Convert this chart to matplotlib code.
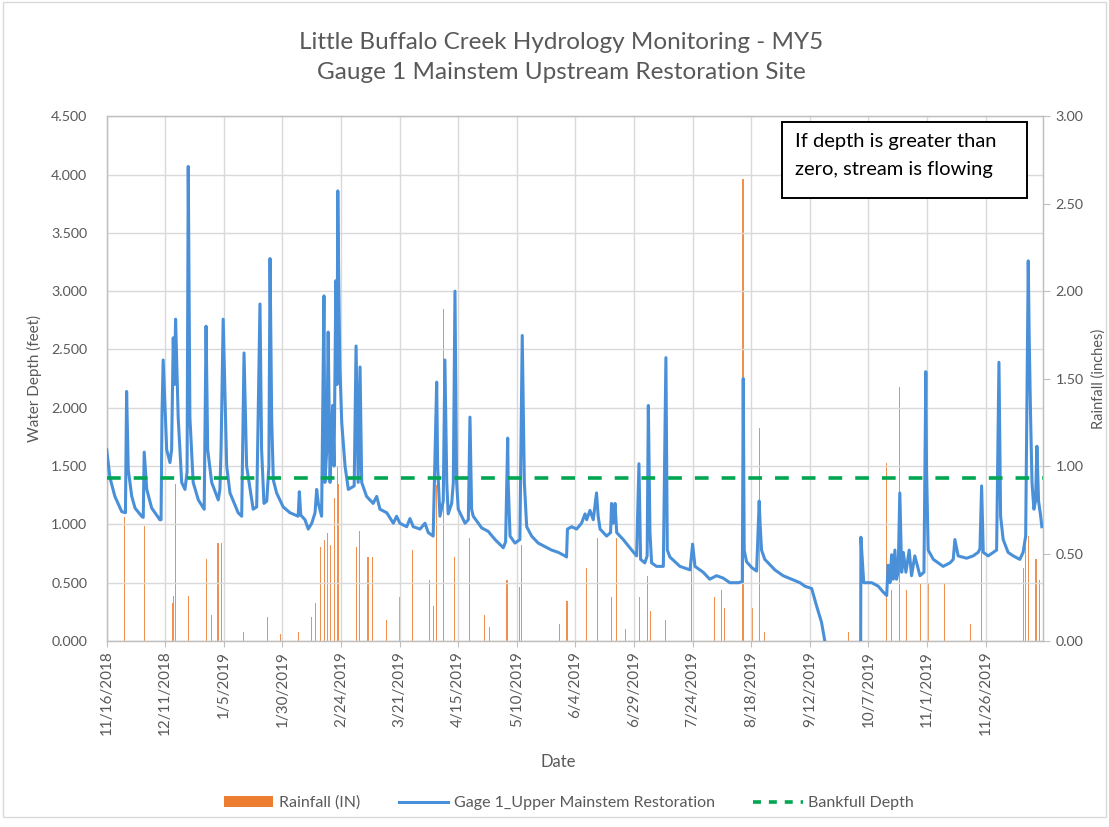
import numpy as np
import pandas as pd
import matplotlib
matplotlib.use("Agg")
import matplotlib.pyplot as plt
from matplotlib.patches import Patch, Rectangle
from matplotlib.lines import Line2D

# ---- data -------------------------------------------------------------
start_date = "2018-11-16"

# water depth record: days after start, depth in feet (nan = no record)
depth_day = [
    0.0, 1.4, 3.5, 6.4, 8.0, 8.5, 9.2, 10.7, 12.1, 14.9, 15.6, 16.0, 17.1, 19.2, 22.7,
    23.2, 23.6, 24.1, 24.9, 25.6, 27.0, 27.7, 28.4, 28.9, 29.4, 30.5, 32.0, 33.4, 34.3,
    34.8, 35.5, 36.9, 39.1, 41.6, 42.4, 43.1, 44.8, 47.6, 48.3, 48.8, 49.7, 51.2, 52.6,
    56.1, 57.6, 58.6, 59.7, 62.5, 64.0, 65.4, 66.1, 67.1, 68.3, 69.2, 69.7, 70.4, 71.1,
    72.5, 75.3, 78.2, 81.7, 82.2, 82.8, 84.6, 86.0, 87.5, 88.9, 89.6, 90.3, 91.7, 92.7,
    93.1, 93.9, 94.5, 95.3, 95.7, 96.4, 97.0, 97.8, 98.3, 98.6, 99.0, 99.5, 100.3, 101.7,
    103.1, 105.6, 106.4, 107.3, 108.1, 108.8, 110.9, 113.7, 115.2, 116.6, 119.5, 122.3,
    123.7, 125.1, 128.0, 129.4, 130.8, 133.7, 135.8, 137.2, 139.3, 140.8, 141.2, 142.2,
    143.6, 144.3, 145.1, 145.7, 147.2, 147.9, 148.6, 149.3, 150.0, 152.9, 154.3, 155.0,
    155.7, 156.4, 160.0, 162.8, 165.7, 169.2, 170.2, 171.1, 171.3, 172.1, 174.2, 176.3,
    177.3, 178.2, 179.2, 181.3, 184.1, 187.0, 189.8, 192.7, 195.5, 196.2, 196.6, 198.4,
    200.5, 202.6, 204.1, 204.8, 206.2, 207.6, 209.0, 209.7, 210.5, 213.3, 215.0, 215.4,
    216.1, 216.9, 217.6, 220.4, 224.0, 226.1, 227.1, 227.8, 229.6, 230.6, 231.1, 231.8,
    232.5, 234.6, 237.5, 238.6, 239.2, 240.3, 244.6, 248.9, 250.0, 251.0, 254.5, 257.3,
    260.2, 263.0, 265.9, 269.5, 271.2, 271.6, 272.0, 273.0, 275.2, 277.3, 278.4, 278.8,
    279.4, 280.8, 285.1, 288.6, 292.2, 295.8, 297.9, 300.8, 302.9, 305.0, 306.4, 314.0,
    321.7, 321.8, 323.0, 326.4, 329.2, 331.3, 332.8, 333.4, 334.2, 334.9, 335.6, 336.3,
    337.0, 337.7, 338.4, 339.2, 339.9, 341.0, 342.4, 343.4, 344.8, 347.0, 348.7, 349.5,
    349.8, 350.5, 352.7, 356.9, 359.8, 361.2, 361.9, 363.3, 366.9, 369.7, 371.8, 372.6,
    373.3, 374.0, 376.1, 378.3, 379.7, 380.7, 381.4, 382.5, 384.6, 386.8, 389.6, 391.0,
    392.1, 393.2, 393.6, 394.2, 394.8, 395.6, 396.3, 396.9, 397.6, 398.5, 399.0,
]
depth_ft = [
    1.64, 1.40, 1.24, 1.11, 1.10, 2.14, 1.47, 1.24, 1.14, 1.07, 1.06, 1.62, 1.30, 1.14, 1.04,
    1.04, 1.95, 2.41, 2.00, 1.64, 1.53, 1.64, 2.60, 2.20, 2.76, 1.92, 1.36, 1.30, 1.45,
    4.07, 1.92, 1.36, 1.21, 1.13, 2.70, 1.64, 1.36, 1.21, 1.30, 1.64, 2.76, 1.50, 1.27,
    1.10, 1.07, 2.47, 1.50, 1.13, 1.15, 2.89, 1.64, 1.18, 1.20, 1.50, 3.28, 1.90, 1.38,
    1.27, 1.15, 1.10, 1.07, 1.28, 1.08, 1.04, 0.96, 1.01, 1.10, 1.30, 1.18, 1.07, 2.96,
    1.36, 1.64, 2.65, 1.36, 1.64, 2.02, 1.50, 3.09, 2.20, 3.86, 3.09, 2.35, 1.87, 1.50,
    1.30, 1.33, 2.53, 1.36, 2.35, 1.36, 1.24, 1.18, 1.24, 1.13, 1.10, 1.01,
    1.07, 1.01, 0.98, 1.05, 0.98, 0.96, 1.01, 0.93, 0.90, 2.22, 1.50, 1.07,
    1.20, 2.41, 1.36, 1.09, 1.18, 1.36, 3.00, 1.36, 1.13, 1.01, 1.04, 1.92,
    1.13, 1.07, 0.97, 0.94, 0.87, 0.80, 0.85, 1.74, 1.36, 0.90, 0.84, 0.87,
    2.62, 1.36, 0.98, 0.90, 0.84, 0.81, 0.78, 0.76, 0.73, 0.72, 0.96, 0.98,
    0.96, 1.01, 1.09, 1.04, 1.12, 1.04, 1.27, 1.07, 0.96, 0.90, 0.93, 1.18,
    1.01, 1.18, 0.93, 0.87, 0.78, 0.73, 1.52, 0.70, 0.67, 0.73, 2.02, 0.93,
    0.67, 0.64, 0.64, 2.43, 0.78, 0.72, 0.64, 0.61, 0.83, 0.64, 0.59, 0.53,
    0.56, 0.54, 0.50, 0.50, 0.51, 2.25, 0.78, 0.68, 0.63, 0.60, 1.20, 1.00,
    0.78, 0.70, 0.61, 0.56, 0.53, 0.50, 0.47, 0.45, 0.30, 0.16, 0.00, np.nan,
    0.00, 0.89, 0.50, 0.50, 0.47, 0.42, 0.39, 0.65, 0.50, 0.74, 0.53, 0.78,
    0.53, 0.59, 1.27, 0.59, 0.76, 0.59, 0.78, 0.56, 0.73, 0.56, 0.59, 2.31,
    1.47, 0.78, 0.70, 0.64, 0.67, 0.70, 0.87, 0.73, 0.71, 0.73, 0.76, 0.79,
    1.33, 0.76, 0.73, 0.76, 0.78, 2.39, 1.07, 0.87, 0.76, 0.73, 0.70, 0.76,
    0.90, 3.26, 2.60, 1.92, 1.36, 1.13, 1.20, 1.67, 1.20, 1.07, 0.98,
]

# daily rainfall: days after start, inches
rain_day = [
    7.8, 16.0, 28.0, 28.6, 29.4, 34.8, 42.4, 44.8, 47.5, 49.1, 58.5, 68.8, 74.0, 82.0,
    87.2, 88.9, 91.4, 92.9, 94.2, 95.3, 97.2, 98.3, 98.9, 100.2, 106.4, 107.9, 111.5,
    113.6, 119.5, 125.1, 130.3, 137.9, 139.5, 140.8, 143.9, 148.6, 155.0, 161.4, 163.5,
    170.8, 176.3, 177.0, 193.4, 196.4, 204.6, 209.6, 215.3, 217.4, 221.5, 227.4, 230.9,
    232.2, 238.6, 249.4, 259.4, 262.2, 263.6, 271.5, 275.7, 278.6, 280.5, 316.7, 332.6,
    334.7, 338.3, 341.1, 347.2, 350.5, 357.6, 368.7, 373.1, 391.0, 392.1, 393.2, 396.5,
    398.2,
]
rain_in = [
    0.71, 0.66, 0.22, 0.26, 0.90, 0.26, 0.47, 0.15, 0.56, 0.56, 0.05, 0.14, 0.04, 0.05,
    0.14, 0.22, 0.54, 0.58, 0.62, 0.55, 0.82, 1.00, 0.90, 0.65, 0.54, 0.63, 0.48,
    0.48, 0.12, 0.25, 0.52, 0.35, 0.20, 0.89, 1.90, 0.48, 0.59, 0.15, 0.08,
    0.35, 0.31, 0.55, 0.10, 0.23, 0.42, 0.59, 0.25, 0.59, 0.07, 0.25, 0.37,
    0.17, 0.12, 0.56, 0.25, 0.29, 0.19, 2.64, 0.19, 1.22, 0.05, 0.05, 1.02,
    0.29, 1.45, 0.29, 0.33, 0.33, 0.33, 0.10, 0.54, 0.42, 0.82, 0.60, 0.47,
    0.35,
]

bankfull_ft = 1.40
record_days = 399.5

date_ticks = [
    "11/16/2018", "12/11/2018", "1/5/2019", "1/30/2019", "2/24/2019", "3/21/2019",
    "4/15/2019", "5/10/2019", "6/4/2019", "6/29/2019", "7/24/2019", "8/18/2019",
    "9/12/2019", "10/7/2019", "11/1/2019", "11/26/2019",
]
depth_ticks = np.arange(0, 4.51, 0.5)
rain_ticks = np.arange(0, 3.01, 0.5)

# ---- styling ------------------------------------------------------------
BLUE = "#4A90D9"
ORANGE = "#ED7D31"
GREEN = "#00A651"
GRID = "#D9D9D9"
TEXT = "#595959"
FONT = ["Lato", "DejaVu Sans"]

plt.rcParams["font.family"] = FONT

t0 = pd.Timestamp(start_date)
depth_x = t0 + pd.to_timedelta(depth_day, unit="D")
rain_x = t0 + pd.to_timedelta(rain_day, unit="D")
tick_x = pd.to_datetime(date_ticks, format="%m/%d/%Y")

fig = plt.figure(figsize=(11.09, 8.27), dpi=100)
ax = fig.add_axes([0.0962, 0.2249, 0.8443, 0.6345])
ax2 = ax.twinx()
ax.set_zorder(ax2.get_zorder() + 1)
ax.patch.set_visible(False)

# rainfall bars on the secondary axis
ax2.bar(rain_x, rain_in, width=0.45, color=ORANGE, alpha=0.85, linewidth=0, zorder=2)
ax2.set_ylim(0, 3.0)
ax2.set_yticks(rain_ticks)
ax2.set_yticklabels([f"{v:.2f}" for v in rain_ticks])

# depth trace and bankfull line
ax.plot(depth_x, depth_ft, color=BLUE, lw=2.2, zorder=3, solid_joinstyle="round")
ax.plot([t0, t0 + pd.Timedelta(days=record_days)], [bankfull_ft, bankfull_ft],
        color=GREEN, lw=2.6, dashes=(3.8, 3.6), zorder=4)

ax.set_ylim(0, 4.5)
ax.set_yticks(depth_ticks)
ax.set_yticklabels([f"{v:.3f}" for v in depth_ticks])
ax.set_xlim(t0, t0 + pd.Timedelta(days=record_days))
ax.set_xticks(tick_x)
ax.set_xticklabels(date_ticks, rotation=90, va="top", ha="center")

ax.grid(True, color=GRID, lw=1.0, zorder=0)
ax.set_axisbelow(True)

for a in (ax, ax2):
    for s in a.spines.values():
        s.set_color("#BFBFBF")
        s.set_linewidth(0.9)
ax.tick_params(axis="y", length=0, pad=14, labelsize=10.3, labelcolor=TEXT)
ax.tick_params(axis="x", length=4, color="#BFBFBF", pad=3, labelsize=11, labelcolor=TEXT)
ax2.tick_params(axis="y", length=5, color="#BFBFBF", pad=4, labelsize=10.3, labelcolor=TEXT)

ax.set_ylabel("Water Depth (feet)", fontsize=11, color=TEXT)
ax2.set_ylabel("Rainfall (inches)", fontsize=10.5, color=TEXT)
ax.yaxis.set_label_coords(-0.069, 0.5)
ax2.yaxis.set_label_coords(1.052, 0.5)

fig.text(0.503, 0.0786, "Date", ha="center", va="center", fontsize=12, color=TEXT)

# titles
fig.text(0.506, 0.949, "Little Buffalo Creek Hydrology Monitoring - MY5",
         ha="center", va="center", fontsize=17.5, color=TEXT)
fig.text(0.506, 0.912, "Gauge 1 Mainstem Upstream Restoration Site",
         ha="center", va="center", fontsize=17.5, color=TEXT)

# note box
fig.add_artist(Rectangle((782 / 1109, 1 - 198 / 827), 245 / 1109, 76 / 827,
                         transform=fig.transFigure, facecolor="white",
                         edgecolor="black", lw=1.4, zorder=10))
fig.text(795 / 1109, 1 - 142 / 827, "If depth is greater than", fontsize=14.5,
         color="black", va="center", ha="left", zorder=11)
fig.text(795 / 1109, 1 - 169 / 827, "zero, stream is flowing", fontsize=14.5,
         color="black", va="center", ha="left", zorder=11)

# legend
handles = [
    Patch(facecolor=ORANGE, edgecolor="none"),
    Line2D([], [], color=BLUE, lw=2.2),
    Line2D([], [], color=GREEN, lw=2.6, dashes=(2.2, 2.2)),
]
labels = ["Rainfall (IN)", "Gage 1_Upper Mainstem Restoration", "Bankfull Depth"]
fig.legend(handles, labels, loc="center", bbox_to_anchor=(0.513, 1 - 803 / 827),
           ncol=3, frameon=False, handlelength=3.1, handletextpad=0.35,
           columnspacing=2.4, prop={"size": 11.5}, labelcolor=TEXT)

# chart border
fig.add_artist(Rectangle((0.003, 0.012), 0.994, 0.985, transform=fig.transFigure,
                         facecolor="none", edgecolor=GRID, lw=1.0))

fig.savefig("out.png", dpi=100, facecolor="white")
